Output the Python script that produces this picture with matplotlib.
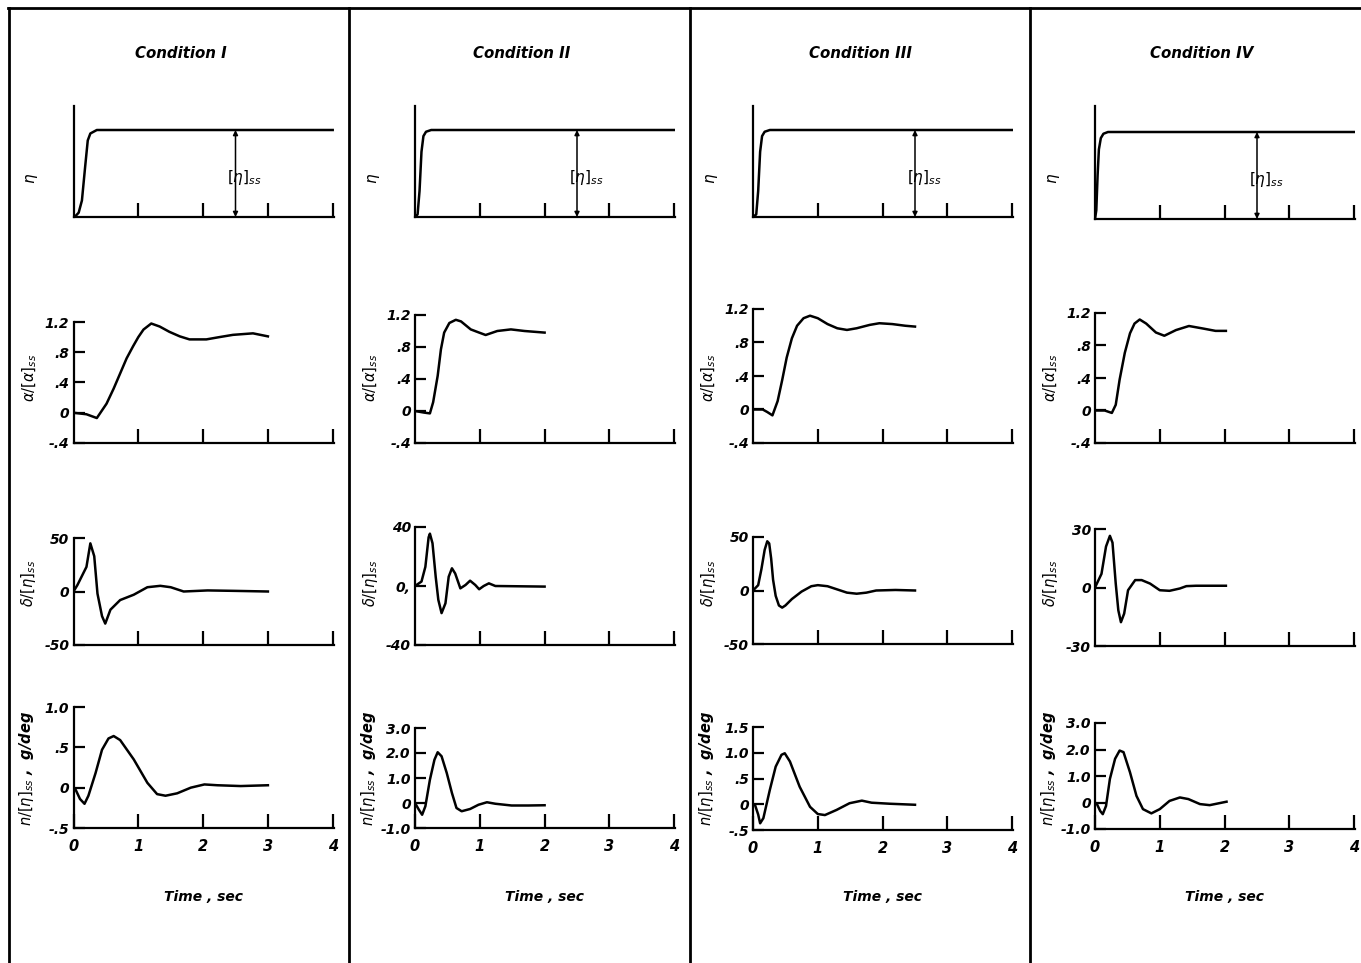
import numpy as np
import matplotlib
matplotlib.use("Agg")
import matplotlib.pyplot as plt
from matplotlib.lines import Line2D

# ---------------- data ----------------
conditions = ["Condition I", "Condition II", "Condition III", "Condition IV"]

# row 1: stick input eta (normalised to steady state)
c1_eta_t = [0, 0.03, 0.08, 0.13, 0.18, 0.22, 0.26, 0.36, 4.0]
c1_eta_v = [0, 0.01, 0.05, 0.19, 0.58, 0.88, 0.96, 1.0, 1.0]
c2_eta_t = [0, 0.04, 0.07, 0.10, 0.13, 0.17, 0.25, 4.0]
c2_eta_v = [0, 0.03, 0.30, 0.75, 0.93, 0.98, 1.0, 1.0]
c3_eta_t = [0, 0.05, 0.08, 0.11, 0.14, 0.18, 0.26, 4.0]
c3_eta_v = [0, 0.03, 0.30, 0.75, 0.93, 0.98, 1.0, 1.0]
c4_eta_t = [0, 0.02, 0.04, 0.06, 0.09, 0.13, 0.20, 4.0]
c4_eta_v = [0, 0.10, 0.50, 0.80, 0.93, 0.98, 1.0, 1.0]

# row 2: alpha / [alpha]ss
c1_a_t = [0, 0.2, 0.36, 0.51, 0.62, 0.72, 0.82, 0.92, 1.0, 1.08, 1.2, 1.33, 1.48, 1.64, 1.79, 2.05, 2.25, 2.46, 2.77, 3.0]
c1_a_v = [0, -0.02, -0.07, 0.12, 0.32, 0.52, 0.72, 0.88, 1.0, 1.10, 1.18, 1.14, 1.07, 1.01, 0.97, 0.97, 1.0, 1.03, 1.05, 1.01]
c2_a_t = [0, 0.14, 0.23, 0.28, 0.35, 0.40, 0.45, 0.53, 0.63, 0.71, 0.86, 0.99, 1.09, 1.27, 1.48, 1.69, 2.0]
c2_a_v = [0, -0.02, -0.03, 0.11, 0.44, 0.77, 0.98, 1.10, 1.14, 1.12, 1.02, 0.98, 0.95, 1.0, 1.02, 1.0, 0.98]
c3_a_t = [0, 0.15, 0.22, 0.30, 0.38, 0.45, 0.52, 0.60, 0.68, 0.78, 0.88, 1.0, 1.15, 1.3, 1.45, 1.6, 1.8, 1.95, 2.15, 2.35, 2.5]
c3_a_v = [0, 0, -0.03, -0.07, 0.10, 0.35, 0.62, 0.85, 1.0, 1.09, 1.12, 1.09, 1.02, 0.97, 0.95, 0.97, 1.01, 1.03, 1.02, 1.0, 0.99]
c4_a_t = [0, 0.15, 0.26, 0.32, 0.38, 0.46, 0.54, 0.61, 0.69, 0.79, 0.94, 1.07, 1.25, 1.45, 1.66, 1.86, 2.02]
c4_a_v = [0, 0, -0.03, 0.07, 0.38, 0.71, 0.95, 1.07, 1.12, 1.07, 0.96, 0.92, 0.99, 1.04, 1.01, 0.98, 0.98]

# row 3: delta / [eta]ss
c1_d_t = [0, 0.06, 0.20, 0.26, 0.32, 0.37, 0.44, 0.49, 0.57, 0.72, 0.93, 1.14, 1.34, 1.5, 1.7, 2.07, 2.48, 3.0]
c1_d_v = [0, 6, 23, 45, 33, -2, -23, -30, -17, -8, -3, 4, 5.3, 4, 0, 1, 0.6, 0]
c2_d_t = [0, 0.10, 0.16, 0.21, 0.23, 0.27, 0.32, 0.36, 0.41, 0.47, 0.52, 0.57, 0.62, 0.70, 0.78, 0.85, 0.93, 0.99, 1.06, 1.14, 1.24, 2.0]
c2_d_v = [0, 3, 13, 33, 35.5, 29, 6, -9.4, -18.4, -11.7, 6.3, 12, 8.5, -1.6, 0.7, 3.6, 0.7, -2.2, 0, 1.8, 0, -0.4]
c3_d_t = [0, 0.08, 0.13, 0.18, 0.22, 0.25, 0.28, 0.31, 0.35, 0.40, 0.45, 0.50, 0.60, 0.75, 0.90, 1.0, 1.15, 1.3, 1.45, 1.6, 1.75, 1.9, 2.2, 2.5]
c3_d_v = [0, 5, 20, 38, 46, 44, 30, 10, -5, -14, -16, -14, -8, -1, 4, 5, 4, 1, -2, -3, -2, 0, 0.5, 0]
c4_d_t = [0, 0.10, 0.17, 0.23, 0.27, 0.32, 0.36, 0.40, 0.45, 0.51, 0.62, 0.72, 0.85, 1.0, 1.15, 1.31, 1.41, 1.56, 2.02]
c4_d_v = [0, 7, 21, 26.5, 23, 2, -11.7, -17.8, -13.4, -1.4, 3.8, 3.8, 2, -1.4, -1.7, -0.5, 0.7, 0.9, 0.9]

# row 4: normal acceleration n / [eta]ss, g/deg
c1_n_t = [0, 0.03, 0.10, 0.17, 0.23, 0.34, 0.44, 0.54, 0.62, 0.72, 0.93, 1.14, 1.29, 1.42, 1.6, 1.81, 2.02, 2.22, 2.58, 3.0]
c1_n_v = [0, -0.02, -0.14, -0.20, -0.10, 0.18, 0.47, 0.61, 0.64, 0.59, 0.35, 0.06, -0.08, -0.10, -0.07, 0, 0.04, 0.03, 0.02, 0.03]
c2_n_t = [0, 0.06, 0.11, 0.16, 0.23, 0.30, 0.35, 0.41, 0.49, 0.57, 0.64, 0.72, 0.85, 0.98, 1.11, 1.24, 1.49, 1.75, 2.0]
c2_n_v = [0, -0.27, -0.47, -0.13, 0.93, 1.73, 2.03, 1.87, 1.2, 0.4, -0.2, -0.33, -0.24, -0.07, 0.03, -0.03, -0.1, -0.1, -0.09]
c3_n_t = [0, 0.03, 0.08, 0.11, 0.16, 0.26, 0.35, 0.44, 0.49, 0.57, 0.72, 0.88, 1.0, 1.11, 1.29, 1.49, 1.68, 1.83, 2.11, 2.5]
c3_n_v = [0, -0.01, -0.20, -0.37, -0.27, 0.28, 0.73, 0.96, 0.99, 0.83, 0.34, -0.05, -0.19, -0.21, -0.11, 0.02, 0.07, 0.03, 0.01, -0.01]
c4_n_t = [0, 0.03, 0.08, 0.12, 0.17, 0.23, 0.31, 0.38, 0.44, 0.54, 0.64, 0.74, 0.87, 1.0, 1.15, 1.31, 1.44, 1.62, 1.77, 2.03]
c4_n_v = [0, -0.06, -0.32, -0.44, -0.13, 0.89, 1.65, 1.96, 1.9, 1.14, 0.25, -0.25, -0.41, -0.25, 0.06, 0.19, 0.13, -0.06, -0.1, 0.03]

x_ticks = [0, 1, 2, 3, 4]
x_ticklabels = ["0", "1", "2", "3", "4"]

a_ticks = [-0.4, 0, 0.4, 0.8, 1.2]
a_ticklabels = ["-.4", "0", ".4", ".8", "1.2"]

d_ticks = [[-50, 0, 50], [-40, 0, 40], [-50, 0, 50], [-30, 0, 30]]
d_ticklabels = [["-50", "0", "50"], ["-40", "0,", "40"], ["-50", "0", "50"], ["-30", "0", "30"]]

n_ticks = [[-0.5, 0, 0.5, 1.0], [-1.0, 0, 1.0, 2.0, 3.0], [-0.5, 0, 0.5, 1.0, 1.5], [-1.0, 0, 1.0, 2.0, 3.0]]
n_ticklabels = [["-.5", "0", ".5", "1.0"], ["-1.0", "0", "1.0", "2.0", "3.0"],
                ["-.5", "0", ".5", "1.0", "1.5"], ["-1.0", "0", "1.0", "2.0", "3.0"]]

# ---------------- layout (pixels) ----------------
W, H = 1361, 963
col_x0 = [73.5, 415, 753, 1095]
px_per_sec = 64.8

row1_px = [(217, 130), (217, 130), (217, 130), (219, 132)]   # (y=0 px, y=1 px)
row2_px = [(322, 443), (315, 443), (309, 443), (313, 443)]   # (top px, bottom px)
row3_px = [(538, 645), (527, 645), (537, 644), (529, 646)]
row4_px = [(707, 828), (728, 828), (727, 830), (723, 829)]

plt.rcParams["font.family"] = ["DejaVu Sans"]
plt.rcParams["mathtext.fontset"] = "dejavusans"
plt.rcParams["mathtext.default"] = "it"

fig = plt.figure(figsize=(W / 100, H / 100), dpi=100)
fig.patch.set_facecolor("white")

FONT = dict(fontstyle="italic", fontweight="bold")
LW = 1.8


def add_axes_px(left, top, right, bottom):
    return fig.add_axes([left / W, 1 - bottom / H, (right - left) / W, (bottom - top) / H])


def style(ax, yt, ytl, show_x_labels):
    for s in ("top", "right"):
        ax.spines[s].set_visible(False)
    for s in ("left", "bottom"):
        ax.spines[s].set_linewidth(1.6)
    ax.set_xlim(0, 4.02)
    ax.set_xticks(x_ticks[1:] if not show_x_labels else x_ticks)
    if show_x_labels:
        ax.set_xticklabels(x_ticklabels, fontsize=10.5, **FONT)
    else:
        ax.set_xticklabels([])
    ax.tick_params(axis="x", direction="in", length=10, width=1.6, pad=8)
    if yt is None:
        ax.set_yticks([])
    else:
        ax.set_yticks(yt)
        ax.set_yticklabels(ytl, fontsize=10, **FONT)
        ax.tick_params(axis="y", direction="in", length=8, width=1.6, pad=3)


eta_t = [c1_eta_t, c2_eta_t, c3_eta_t, c4_eta_t]
eta_v = [c1_eta_v, c2_eta_v, c3_eta_v, c4_eta_v]
a_t = [c1_a_t, c2_a_t, c3_a_t, c4_a_t]
a_v = [c1_a_v, c2_a_v, c3_a_v, c4_a_v]
d_t = [c1_d_t, c2_d_t, c3_d_t, c4_d_t]
d_v = [c1_d_v, c2_d_v, c3_d_v, c4_d_v]
n_t = [c1_n_t, c2_n_t, c3_n_t, c4_n_t]
n_v = [c1_n_v, c2_n_v, c3_n_v, c4_n_v]

for c in range(4):
    x0 = col_x0[c]
    x1 = x0 + 4.02 * px_per_sec

    # ---- row 1: input ----
    y0, y1 = row1_px[c]
    top_px = 106
    ytop = (y0 - top_px) / (y0 - y1)
    ax = add_axes_px(x0, top_px, x1, y0)
    ax.plot(eta_t[c], eta_v[c], color="black", lw=LW, solid_joinstyle="round")
    ax.set_ylim(0, ytop)
    style(ax, None, None, False)
    ax.annotate("", xy=(2.5, 1.0), xytext=(2.5, 0.0),
                arrowprops=dict(arrowstyle="<|-|>", lw=1.1, color="black",
                                mutation_scale=7, shrinkA=0, shrinkB=0))
    ax.text(2.37, 0.45, r"$[\eta]_{ss}$", fontsize=11, ha="left", va="center")
    fig.text((x0 - 41) / W, 1 - 178 / H, r"$\eta$", rotation=90, fontsize=11,
             ha="center", va="center")

    # ---- row 2 ----
    ptop, pbot = row2_px[c]
    ax = add_axes_px(x0, ptop, x1, pbot)
    ax.plot(a_t[c], a_v[c], color="black", lw=LW, solid_joinstyle="round")
    ax.set_ylim(-0.4, 1.2)
    style(ax, a_ticks, a_ticklabels, False)
    fig.text((x0 - 44) / W, 1 - 378 / H, r"$\alpha/[\alpha]_{ss}$", rotation=90,
             fontsize=10.5, ha="center", va="center")

    # ---- row 3 ----
    ptop, pbot = row3_px[c]
    ax = add_axes_px(x0, ptop, x1, pbot)
    ax.plot(d_t[c], d_v[c], color="black", lw=LW, solid_joinstyle="round")
    lim = d_ticks[c][-1]
    ax.set_ylim(-lim, lim)
    style(ax, d_ticks[c], d_ticklabels[c], False)
    fig.text((x0 - 45) / W, 1 - 583 / H, r"$\delta/[\eta]_{ss}$", rotation=90,
             fontsize=10.5, ha="center", va="center")

    # ---- row 4 ----
    ptop, pbot = row4_px[c]
    ax = add_axes_px(x0, ptop, x1, pbot)
    ax.plot(n_t[c], n_v[c], color="black", lw=LW, solid_joinstyle="round")
    ax.set_ylim(n_ticks[c][0], n_ticks[c][-1])
    style(ax, n_ticks[c], n_ticklabels[c], True)
    fig.text((x0 - 47) / W, 1 - 768 / H, r"$n/[\eta]_{ss}$ ,  g/deg", rotation=90,
             fontsize=10.5, ha="center", va="center", **FONT)

    # column title and time label
    fig.text((x0 + 107) / W, 1 - 53 / H, conditions[c], fontsize=10.8,
             ha="center", va="center", **FONT)
    fig.text((x0 + 2 * px_per_sec) / W, 1 - 897 / H, "Time , sec", fontsize=10,
             ha="center", va="center", **FONT)

# panel frame lines
frame_kw = dict(color="black", lw=2.0, transform=fig.transFigure)
fig.add_artist(Line2D([8 / W, 1.0], [1 - 8 / H, 1 - 8 / H], **frame_kw))
for xp in (9, 349, 690, 1030):
    fig.add_artist(Line2D([xp / W, xp / W], [0, 1 - 8 / H], **frame_kw))

fig.savefig("out.png", dpi=100, facecolor="white")
